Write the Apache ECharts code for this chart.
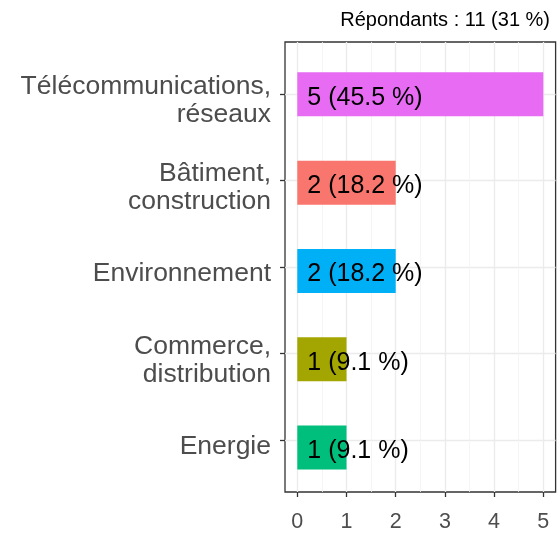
<!DOCTYPE html>
<html>
<head>
<meta charset="utf-8">
<script src="https://cdn.jsdelivr.net/npm/echarts@6/dist/echarts.min.js"></script>
<style>html,body{margin:0;padding:0;background:#fff;}#c{width:557px;height:533px;}</style>
</head>
<body>
<div id="c"></div>
<script>
// Data (bottom to top)
const categories = ['Energie', 'Commerce,\ndistribution', 'Environnement', 'Bâtiment,\nconstruction', 'Télécommunications,\nréseaux'];
const counts = [1, 1, 2, 2, 5];
const percents = ['9.1', '9.1', '18.2', '18.2', '45.5'];
const xTicks = [0, 1, 2, 3, 4, 5];
const xMinorTicks = [0.5, 1.5, 2.5, 3.5, 4.5];
const yPositions = [1, 2, 3, 4, 5];
const titleText = 'Répondants : 11 (31 %)';

const barColors = ['#00BF7D', '#A3A500', '#00B0F6', '#F8766D', '#E76BF3'];
const FONT = '"Liberation Sans", Arial, sans-serif';
const LABEL_NUDGE = 0.08; // small downward nudge of category text (axis units)

const chart = echarts.init(document.getElementById('c'), null, {renderer: 'canvas'});
chart.setOption({
  animation: false,
  backgroundColor: '#fff',
  textStyle: {fontFamily: FONT},
  title: {
    text: titleText, right: 2, top: 5,
    textStyle: {fontSize: 20, fontWeight: 'normal', color: '#000', fontFamily: FONT}
  },
  grid: [
    {left: 285, top: 42, width: 270.6, height: 458.7, show: true, borderColor: '#333', borderWidth: 1.3, backgroundColor: 'transparent', containLabel: false},
    {left: 285, top: 94.3, width: 270.6, height: 353.3, show: false, containLabel: false}
  ],
  xAxis: [
    {
      gridIndex: 0, type: 'value', min: -0.25, max: 5.25, position: 'bottom',
      axisLine: {show: false, onZero: false},
      axisTick: {show: true, length: 5, lineStyle: {color: '#333', width: 1.3}, customValues: xTicks},
      axisLabel: {show: true, customValues: xTicks, fontSize: 21.5, color: '#4D4D4D', margin: 19, fontFamily: FONT},
      splitLine: {show: true, lineStyle: {color: '#EBEBEB', width: 1.3}}
    },
    {
      gridIndex: 1, type: 'value', min: -0.25, max: 5.25, show: false
    },
    {
      gridIndex: 0, type: 'value', min: -0.25, max: 5.25, position: 'bottom',
      axisLine: {show: false, onZero: false},
      axisTick: {show: false, customValues: xMinorTicks},
      axisLabel: {show: false, customValues: xMinorTicks},
      splitLine: {show: true, lineStyle: {color: '#F2F2F2', width: 0.8}}
    }
  ],
  yAxis: [
    {
      gridIndex: 0, type: 'value', min: 0.4, max: 5.6, position: 'left',
      axisLine: {show: false, onZero: false},
      axisTick: {show: true, length: 5, customValues: yPositions, lineStyle: {color: '#333', width: 1.3}},
      axisLabel: {
        show: true, customValues: yPositions.map(v => v - LABEL_NUDGE),
        formatter: v => categories[Math.round(v) - 1],
        fontSize: 26.5, color: '#4D4D4D', align: 'right', margin: 14, lineHeight: 28,
        fontFamily: FONT
      },
      splitLine: {show: true, lineStyle: {color: '#EBEBEB', width: 1.3}}
    },
    {
      gridIndex: 1, type: 'category', data: categories, boundaryGap: false, show: false,
      axisLine: {onZero: false}
    }
  ],
  series: [{
    type: 'bar',
    xAxisIndex: 1, yAxisIndex: 1,
    barWidth: 44,
    clip: false,
    data: counts.map((v, i) => ({value: v, itemStyle: {color: barColors[i]}})),
    label: {
      show: true, position: 'insideLeft', distance: 10, offset: [0, 3.5],
      formatter: p => counts[p.dataIndex] + ' (' + percents[p.dataIndex] + ' %)',
      color: '#000', fontSize: 25, fontFamily: FONT
    },
    z: 3
  }]
});
</script>
</body>
</html>
